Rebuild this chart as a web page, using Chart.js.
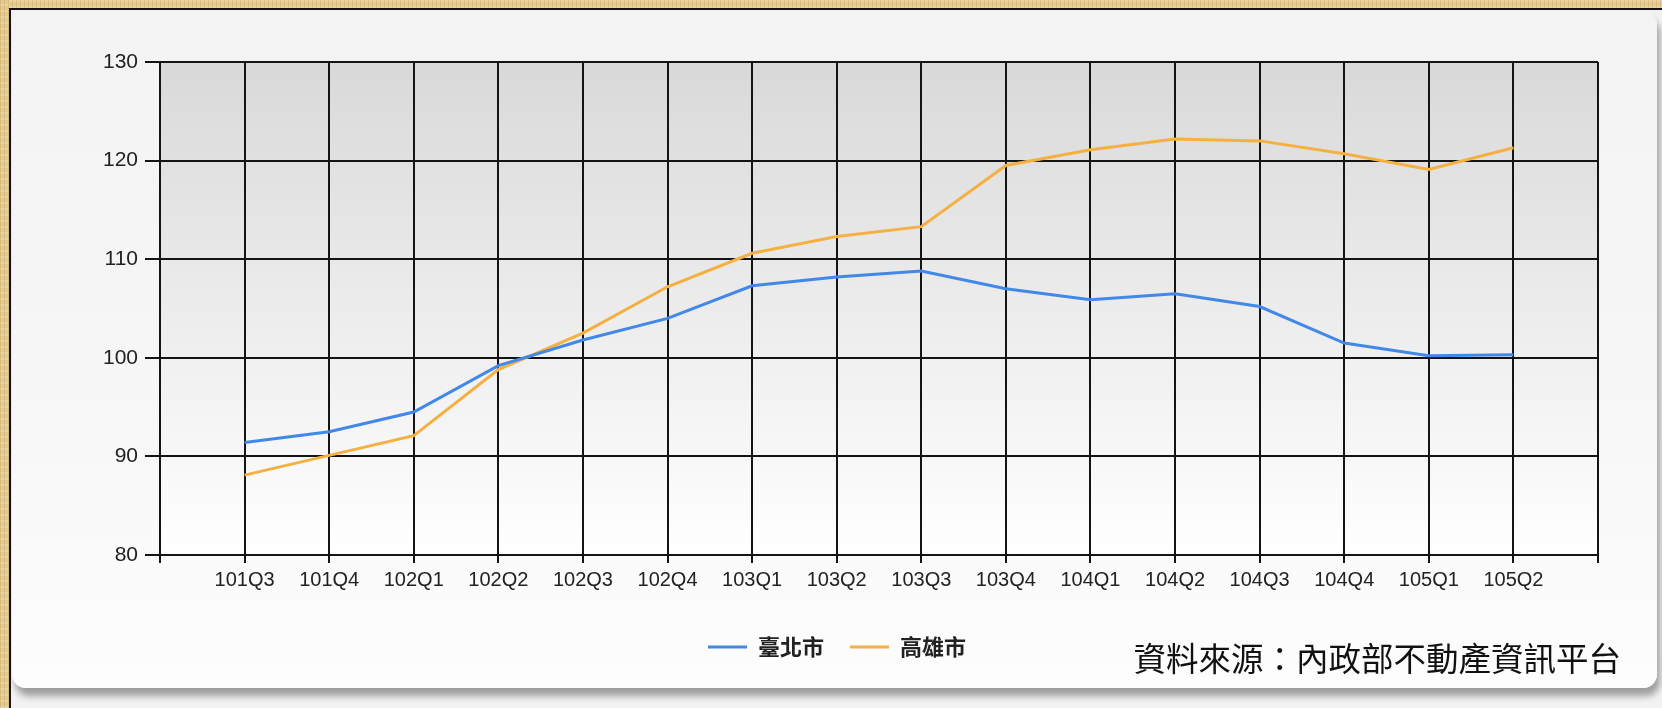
<!DOCTYPE html>
<html>
<head>
<meta charset="utf-8">
<script src="https://cdn.jsdelivr.net/npm/chart.js@4.4.1/dist/chart.umd.min.js"></script>
<style>
  html, body { margin: 0; padding: 0; background: #f2f2f2; }
  body { width: 1662px; height: 708px; overflow: hidden; position: relative; }
  .wood { position: absolute; background-color: #e4ca8e;
    background-image: repeating-linear-gradient(90deg, rgba(150,110,40,.18) 0 1px, transparent 1px 4px),
                      repeating-linear-gradient(0deg, rgba(255,240,200,.25) 0 2px, transparent 2px 6px); }
  .wood.top { left: 0; top: 0; width: 1662px; height: 8px; }
  .wood.left { left: 0; top: 0; width: 9px; height: 708px; }
  .frame { position: absolute; left: 9px; top: 8px; width: 1653px; height: 700px; box-sizing: border-box;
    border-left: 2px solid #141414; border-top: 2px solid #141414; }
  .panel { position: absolute; left: 12px; top: 11px; width: 1645px; height: 677px; border-radius: 14px;
    background: linear-gradient(#f3f3f3, #f6f6f6 50%, #fdfdfd); box-shadow: 3px 8px 7px rgba(0,0,0,0.35); }
  #chart { position: absolute; left: 0; top: 0; }
  .source { position: absolute; right: 41px; top: 640px; font-family: "Noto Sans CJK TC", sans-serif;
    font-size: 32.5px; line-height: 33px; color: #111; white-space: nowrap; }
</style>
</head>
<body>
<div class="wood top"></div>
<div class="wood left"></div>
<div class="frame"></div>
<div class="panel"></div>
<canvas id="chart" width="1662" height="708"></canvas>
<div class="source">資料來源：內政部不動產資訊平台</div>
<script>
// quarterly housing price index, 101Q3 .. 105Q2
const quarters = ['101Q3', '101Q4', '102Q1', '102Q2', '102Q3', '102Q4', '103Q1', '103Q2',
                  '103Q3', '103Q4', '104Q1', '104Q2', '104Q3', '104Q4', '105Q1', '105Q2'];
const taipei = [91.4, 92.5, 94.5, 99.2, 101.8, 104.0, 107.3, 108.2,
                108.8, 107.0, 105.9, 106.5, 105.2, 101.5, 100.2, 100.3];
const kaohsiung = [88.1, 90.1, 92.1, 98.8, 102.5, 107.2, 110.6, 112.3,
                   113.3, 119.5, 121.1, 122.2, 122.0, 120.7, 119.1, 121.3];
const yMin = 80, yMax = 130, yStep = 10;

// empty slots on both ends leave one blank column left and right of the data
const labels = ['', ...quarters, ''];
const pad = arr => [null, ...arr, null];

const plotBackground = {
  id: 'plotBackground',
  beforeDraw(chart) {
    const { ctx, chartArea: a } = chart;
    const g = ctx.createLinearGradient(0, a.top, 0, a.bottom);
    g.addColorStop(0, '#d9d9d9');
    g.addColorStop(1, '#ffffff');
    ctx.save();
    ctx.fillStyle = g;
    ctx.fillRect(a.left, a.top, a.width, a.height);
    ctx.restore();
  }
};

const gridColor = '#141414';

new Chart(document.getElementById('chart').getContext('2d'), {
  type: 'line',
  data: {
    labels: labels,
    datasets: [
      {
        label: '臺北市',
        data: pad(taipei),
        borderColor: '#4288e8',
        backgroundColor: '#4288e8',
        borderWidth: 3,
        pointRadius: 0,
        tension: 0,
        fill: false
      },
      {
        label: '高雄市',
        data: pad(kaohsiung),
        borderColor: '#f5b042',
        backgroundColor: '#f5b042',
        borderWidth: 3,
        pointRadius: 0,
        tension: 0,
        fill: false
      }
    ]
  },
  options: {
    responsive: false,
    animation: false,
    // left padding shifts the centred legend; the y axis width below keeps the plot edge at x=160
    layout: { padding: { top: 62, right: 64, bottom: 40, left: 76 } },
    scales: {
      x: {
        offset: false,
        grid: { color: gridColor, lineWidth: 2, tickLength: 8 },
        border: { color: gridColor, width: 2 },
        ticks: {
          autoSkip: false,
          maxRotation: 0,
          padding: 5,
          color: '#222',
          font: { family: 'Liberation Sans', size: 20 }
        },
        afterFit(scale) { scale.height = 55; }
      },
      y: {
        min: yMin,
        max: yMax,
        grid: { color: gridColor, lineWidth: 2, tickLength: 15 },
        border: { color: gridColor, width: 2 },
        ticks: {
          stepSize: yStep,
          padding: 7,
          color: '#222',
          font: { family: 'Liberation Sans', size: 21 }
        },
        afterFit(scale) { scale.width = 84; }
      }
    },
    plugins: {
      legend: {
        position: 'bottom',
        labels: {
          usePointStyle: true,
          pointStyle: 'line',
          pointStyleWidth: 39,
          padding: 26,
          color: '#222',
          font: { family: 'Noto Sans CJK TC', size: 22, weight: 'bold' }
        }
      },
      tooltip: { enabled: false }
    }
  },
  plugins: [plotBackground]
});
</script>
</body>
</html>
